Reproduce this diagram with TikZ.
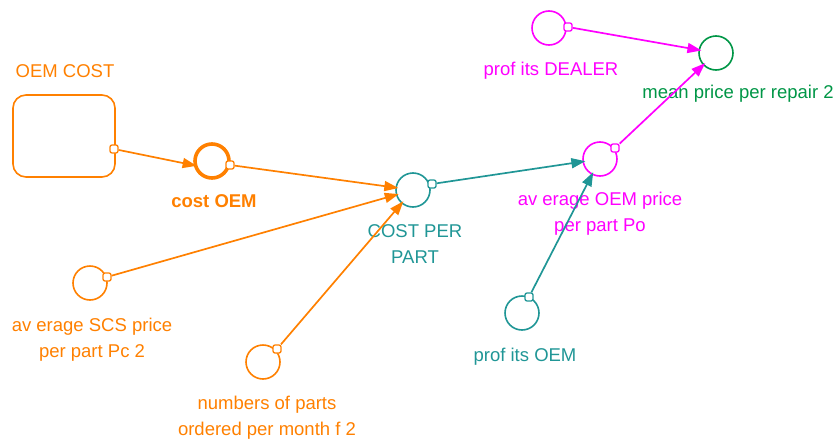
\documentclass[tikz,border=0pt]{standalone}
\usepackage{fontspec}
\setmainfont{Liberation Sans}
\usetikzlibrary{arrows.meta}
\definecolor{oemorange}{RGB}{255,128,0}
\definecolor{partteal}{RGB}{32,150,150}
\definecolor{dealermag}{RGB}{255,0,255}
\definecolor{repairgreen}{RGB}{0,150,70}
\begin{document}
\begin{tikzpicture}[x=1pt,y=-1pt,
  aux/.style={circle, draw, line width=1.6pt, minimum size=34pt, inner sep=0pt},
  keyaux/.style={aux, line width=3.6pt},
  stock/.style={draw, line width=1.6pt, rounded corners=13pt, minimum width=102pt, minimum height=82pt, inner sep=0pt},
  port/.style={draw, fill=white, rounded corners=2pt, minimum size=8pt, inner sep=0pt, line width=1.3pt},
  link/.style={line width=1.7pt, shorten >=-3pt, -{Triangle[length=14pt,width=10pt]}},
  lbl/.style={font=\fontsize{18.5}{26}\selectfont, align=center, anchor=base, inner sep=0pt},
  lblb/.style={lbl, font=\fontsize{18.5}{26}\selectfont\bfseries},
]
\useasboundingbox (0,0) rectangle (837,439);

% stock and auxiliary variables
\node[stock, draw=oemorange] (oemcost) at (64,136) {};
\node[keyaux, draw=oemorange] (costoem) at (212,161) {};
\node[aux, draw=partteal] (costpart) at (413,190) {};
\node[aux, draw=dealermag] (avgoem) at (600,159) {};
\node[aux, draw=repairgreen] (meanprice) at (716,53) {};
\node[aux, draw=dealermag] (profdealer) at (549,28) {};
\node[aux, draw=oemorange] (avgscs) at (90,283) {};
\node[aux, draw=oemorange] (numparts) at (263,362) {};
\node[aux, draw=partteal] (profoem) at (522,313) {};

% variable names (two-line names sit on the baseline of their last line)
\node[lbl, text=oemorange] (oemcostlbl) at (65,77) {OEM COST};
\node[lblb, text=oemorange] (costoemlbl) at (214,207) {cost OEM};
\node[lbl, text=partteal] (costpartlbl) at (415,263) {COST PER\\PART};
\node[lbl, text=dealermag] (avgoemlbl) at (600,231) {av erage OEM price\\per part Po};
\node[lbl, text=repairgreen] (meanpricelbl) at (738,98) {mean price per repair 2};
\node[lbl, text=dealermag] (profdealerlbl) at (551,75) {prof its DEALER};
\node[lbl, text=oemorange] (avgscslbl) at (92,357) {av erage SCS price\\per part Pc 2};
\node[lbl, text=oemorange] (numpartslbl) at (267,435) {numbers of parts\\ordered per month f 2};
\node[lbl, text=partteal] (profoemlbl) at (525,361) {prof its OEM};

% link origins
\node[port, draw=oemorange] (p-oemcost) at (114,149) {};
\node[port, draw=oemorange] (p-costoem) at (230,165) {};
\node[port, draw=partteal] (p-costpart) at (432,184) {};
\node[port, draw=dealermag] (p-avgoem) at (615,148) {};
\node[port, draw=dealermag] (p-profdealer) at (568,27) {};
\node[port, draw=oemorange] (p-avgscs) at (107,277) {};
\node[port, draw=oemorange] (p-numparts) at (277,349) {};
\node[port, draw=partteal] (p-profoem) at (529,297) {};

% causal links
\draw[link, oemorange] (p-oemcost) -- (costoem.193);
\draw[link, oemorange] (p-costoem) -- (costpart);
\draw[link, oemorange] (p-avgscs) -- (costpart);
\draw[link, oemorange] (p-numparts) -- (costpart);
\draw[link, partteal] (p-costpart) -- (avgoem);
\draw[link, partteal] (p-profoem) -- (avgoem);
\draw[link, dealermag] (p-avgoem) -- (meanprice);
\draw[link, dealermag] (p-profdealer) -- (meanprice);
\end{tikzpicture}
\end{document}
